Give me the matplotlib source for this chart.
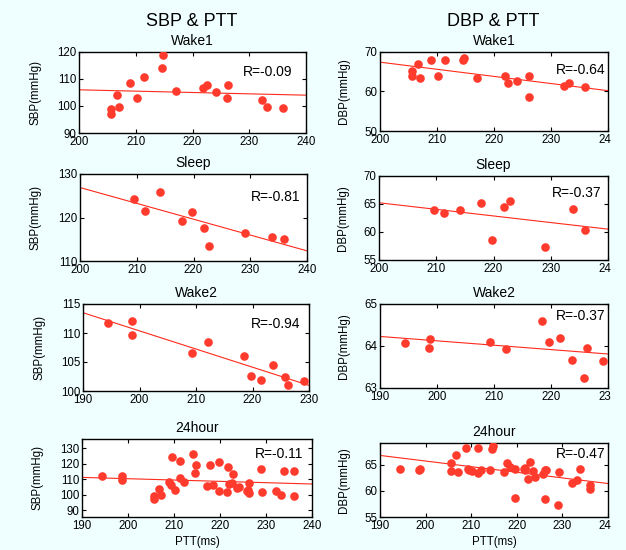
import numpy as np
import matplotlib
matplotlib.use("Agg")
import matplotlib.pyplot as plt
from matplotlib.patches import Rectangle

plt.rcParams['font.family'] = ['Liberation Sans', 'DejaVu Sans']

# ---------------- data ----------------
ptt_wake1 = [205.6, 205.6, 206.7, 207.1, 208.9, 210.2, 211.4, 214.6, 214.8, 217.1,
             221.9, 222.5, 224.1, 226.1, 226.2, 232.2, 233.2, 236.0]
sbp_wake1 = [97.1, 99.0, 103.9, 99.6, 108.5, 102.9, 110.9, 114.1, 119.0, 105.6,
             106.75, 107.75, 105.0, 102.9, 107.6, 102.25, 99.75, 99.25]
dbp_wake1 = [63.8, 65.3, 66.9, 63.5, 68.1, 63.8, 68.1, 67.9, 68.5, 63.5,
             63.9, 62.2, 62.7, 63.9, 58.5, 61.4, 62.1, 61.1]

ptt_sleep = [209.6, 211.4, 214.1, 217.9, 219.7, 221.8, 222.8, 229.0, 233.9, 236.0]
sbp_sleep = [124.15, 121.5, 125.85, 119.1, 121.3, 117.7, 113.5, 116.5, 115.5, 115.1]
dbp_sleep = [63.95, 63.4, 63.95, 65.25, 58.6, 64.4, 65.5, 57.3, 64.1, 60.3]

ptt_wake2 = [194.4, 198.7, 198.6, 209.3, 212.1, 218.5, 219.7, 221.5, 223.6, 225.8, 226.3, 229.2]
sbp_wake2 = [111.8, 112.05, 109.7, 106.5, 108.4, 106.1, 102.6, 101.9, 104.5, 102.5, 101.0, 101.7]
dbp_wake2 = [64.07, 64.17, 63.96, 64.09, 63.94, 64.59, 64.09, 64.18, 63.67, 63.25, 63.96, 63.65]

ptt_24h = ptt_wake1 + ptt_sleep + ptt_wake2
sbp_24h = sbp_wake1 + sbp_sleep + sbp_wake2
dbp_24h = dbp_wake1 + dbp_sleep + dbp_wake2

period_names = ["Wake1", "Sleep", "Wake2", "24hour"]
r_sbp = ["R=-0.09", "R=-0.81", "R=-0.94", "R=-0.11"]
r_dbp = ["R=-0.64", "R=-0.37", "R=-0.37", "R=-0.47"]
column_titles = ["SBP & PTT", "DBP & PTT"]
ylabels = ["SBP(mmHg)", "DBP(mmHg)"]
xlabel = "PTT(ms)"

sbp_xlims = [(200, 240), (200, 240), (190, 230), (190, 240)]
sbp_ylims = [(90, 120), (110, 130), (100, 115), (85.7, 135.8)]
sbp_yticks = [[90, 100, 110, 120], [110, 120, 130], [100, 105, 110, 115], [90, 100, 110, 120, 130]]
dbp_xlims = [(200, 240), (200, 240), (190, 230), (190, 240)]
dbp_ylims = [(50, 70), (55, 70), (63, 65), (55, 69.1)]
dbp_yticks = [[50, 60, 70], [55, 60, 65, 70], [63, 64, 65], [55, 60, 65]]
xticks_list = [[200, 210, 220, 230, 240], [200, 210, 220, 230, 240],
               [190, 200, 210, 220, 230], [190, 200, 210, 220, 230, 240]]

# ---------------- layout (pixels) ----------------
W, H = 626, 550
fig = plt.figure(figsize=(W / 100, H / 100), dpi=100, facecolor='#EFFFFF')

left_boxes = [(79, 52, 306, 133), (80, 174, 307, 261), (83, 304, 309, 391), (82, 439, 312, 517)]
right_boxes = [(380, 52, 608, 131), (379, 176, 608, 260), (380, 304, 608, 388), (380, 443, 608, 517)]
r_pos_left = [(0.94, 0.75), (0.97, 0.73), (0.96, 0.77), (0.96, 0.81)]
r_pos_right = [(0.99, 0.77), (0.97, 0.80), (0.99, 0.855), (0.99, 0.85)]

pt_color = '#FF3B2E'
line_color = '#FF2A1C'

def make_ax(box):
    x0, y0, x1, y1 = box
    return fig.add_axes([x0 / W, 1 - y1 / H, (x1 - x0) / W, (y1 - y0) / H])

datasets = [
    (ptt_wake1, sbp_wake1, dbp_wake1),
    (ptt_sleep, sbp_sleep, dbp_sleep),
    (ptt_wake2, sbp_wake2, dbp_wake2),
    (ptt_24h, sbp_24h, dbp_24h),
]

for col in range(2):
    boxes = left_boxes if col == 0 else right_boxes
    for row in range(4):
        ax = make_ax(boxes[row])
        ptt, sbp, dbp = datasets[row]
        y = sbp if col == 0 else dbp
        xlim = sbp_xlims[row] if col == 0 else dbp_xlims[row]
        ylim = sbp_ylims[row] if col == 0 else dbp_ylims[row]
        yt = sbp_yticks[row] if col == 0 else dbp_yticks[row]
        rtxt = r_sbp[row] if col == 0 else r_dbp[row]
        rpos = r_pos_left[row] if col == 0 else r_pos_right[row]

        ax.plot(ptt, y, 'o', color=pt_color, markersize=6.2, markeredgewidth=0, zorder=3)
        coef = np.polyfit(ptt, y, 1)
        xx = np.array(xlim)
        ax.plot(xx, np.polyval(coef, xx), '-', color=line_color, lw=0.8, zorder=2)

        ax.set_xlim(xlim)
        ax.set_ylim(ylim)
        ax.set_xticks(xticks_list[row])
        ax.set_yticks(yt)
        ax.tick_params(direction='in', top=True, right=True, length=3, width=0.8,
                       labelsize=8.3, pad=2, colors='black')
        for s in ax.spines.values():
            s.set_linewidth(1.0)
        ax.set_facecolor('white')
        ax.set_title(period_names[row], fontsize=10, pad=5)
        ax.set_ylabel(ylabels[col], fontsize=8.3)
        wpx = boxes[row][2] - boxes[row][0]
        ax.yaxis.set_label_coords(-(38 if col == 0 else 30) / wpx, 0.5)
        ax.text(rpos[0], rpos[1], rtxt, transform=ax.transAxes, ha='right', va='center',
                fontsize=10, zorder=4)
        if row == 3:
            ax.set_xlabel(xlabel, fontsize=8.3, labelpad=3)

# column titles
fig.text(192 / W, 1 - 26 / H, column_titles[0], ha='center', va='baseline', fontsize=13)
fig.text(493 / W, 1 - 26 / H, column_titles[1], ha='center', va='baseline', fontsize=13)

# crop the right edge like the reference
fig.patches.append(Rectangle((611 / W, 0), 1 - 611 / W, 1, transform=fig.transFigure,
                             facecolor='#EFFFFF', edgecolor='none', zorder=10))

fig.savefig('out.png', dpi=100, facecolor=fig.get_facecolor())
